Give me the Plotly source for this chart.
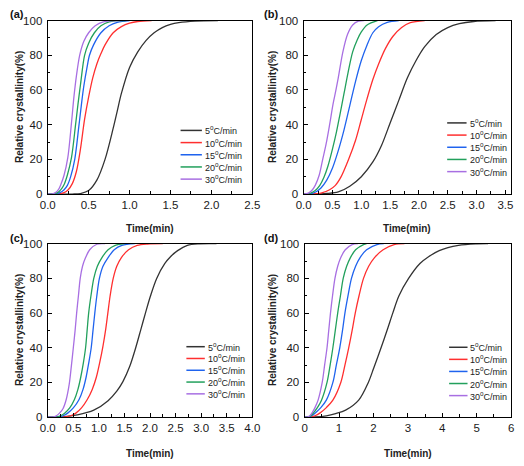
import plotly.graph_objects as go

# ---------------- data ----------------
series_labels = ["5<sup>o</sup>C/min", "10<sup>o</sup>C/min", "15<sup>o</sup>C/min",
                 "20<sup>o</sup>C/min", "30<sup>o</sup>C/min"]
series_colors = ["#333333", "#ff2f2f", "#1f63ee", "#22a05c", "#a86fe2"]

# panel (a)
a5_t = [0, 0.3, 0.4, 0.5, 0.6, 0.7, 0.8, 0.85, 0.9, 1.0, 1.1, 1.2, 1.3, 1.4, 1.5, 1.6, 1.8, 2.08]
a5_y = [0, 0, 0.3, 2, 8, 20, 38, 48, 58, 73, 82, 88.5, 93, 96, 97.8, 98.8, 99.7, 100]
a10_t = [0, 0.12, 0.2, 0.25, 0.3, 0.35, 0.4, 0.45, 0.5, 0.55, 0.6, 0.65, 0.7, 0.8, 0.9, 1.0, 1.1, 1.27]
a10_y = [0, 0, 0.8, 2.5, 6, 13, 26, 43, 56, 67, 75, 81, 86, 93, 96.5, 98.5, 99.5, 100]
a15_t = [0, 0.08, 0.15, 0.2, 0.24, 0.28, 0.33, 0.38, 0.41, 0.44, 0.48, 0.51, 0.56, 0.65, 0.75, 0.85, 1.0]
a15_y = [0, 0, 0.8, 2.5, 5, 10, 20, 39, 51, 62, 73, 80, 86, 93, 97, 99, 100]
a20_t = [0, 0.06, 0.12, 0.16, 0.2, 0.24, 0.29, 0.34, 0.37, 0.4, 0.45, 0.5, 0.57, 0.65, 0.75, 0.95]
a20_y = [0, 0, 0.8, 2.5, 5.5, 11, 21, 40, 52, 63, 80, 87, 93, 97, 99.3, 100]
a30_t = [0, 0.05, 0.1, 0.13, 0.16, 0.2, 0.245, 0.29, 0.32, 0.35, 0.39, 0.44, 0.5, 0.58, 0.68, 0.9]
a30_y = [0, 0, 1, 2.5, 5.5, 11, 21, 41, 56, 68, 80, 88, 93, 97, 99.3, 100]

# panel (b)
b5_t = [0, 0.2, 0.4, 0.6, 0.8, 1.0, 1.2, 1.35, 1.5, 1.65, 1.8, 1.95, 2.1, 2.3, 2.5, 2.7, 2.95, 3.33]
b5_y = [0, 0, 0.3, 1.2, 4.5, 10, 18.5, 28, 41, 54, 67, 77, 85, 92, 96, 98.2, 99.5, 100]
b10_t = [0, 0.15, 0.3, 0.45, 0.55, 0.65, 0.78, 0.9, 1.0, 1.1, 1.2, 1.3, 1.42, 1.55, 1.7, 1.85, 2.1]
b10_y = [0, 0, 0.5, 2.5, 5, 10, 20, 31, 43, 55, 66, 75, 84, 91, 96, 98.8, 100]
b15_t = [0, 0.1, 0.2, 0.3, 0.4, 0.5, 0.6, 0.7, 0.8, 0.9, 1.0, 1.1, 1.2, 1.3, 1.45, 1.65]
b15_y = [0, 0, 1, 3.5, 8, 15, 25, 37, 51, 65, 77, 86, 93, 96.5, 99, 100]
b20_t = [0, 0.1, 0.2, 0.28, 0.35, 0.42, 0.5, 0.57, 0.63, 0.7, 0.77, 0.85, 0.93, 1.0, 1.1, 1.28]
b20_y = [0, 0.3, 2, 5, 9.5, 16, 26, 36, 46, 58, 70, 82, 89, 93.5, 97.5, 100]
b30_t = [0, 0.08, 0.14, 0.2, 0.27, 0.33, 0.39, 0.45, 0.51, 0.56, 0.6, 0.68, 0.76, 0.85, 0.95, 1.05]
b30_y = [0, 0.5, 2, 5, 11, 20, 29, 40, 52, 60, 67, 82, 92, 97.5, 99.7, 100]

# panel (c)
c5_t = [0, 0.3, 0.58, 0.9, 1.18, 1.35, 1.47, 1.6, 1.72, 1.82, 1.91, 2.01, 2.13, 2.29, 2.4, 2.54, 2.73, 2.96, 3.3]
c5_y = [0, 0.2, 1.3, 4, 9.5, 15, 20.5, 29, 40, 50.5, 60, 70, 80, 88.6, 92.5, 96, 99, 99.9, 100]
c10_t = [0, 0.3, 0.45, 0.55, 0.66, 0.77, 0.87, 0.95, 1.02, 1.08, 1.13, 1.175, 1.22, 1.28, 1.35, 1.44, 1.58, 1.75, 1.95, 2.25]
c10_y = [0, 0, 0.8, 2.3, 5.3, 10, 16, 23, 32, 41, 50, 60, 70, 80, 87, 92, 96.5, 99, 99.8, 100]
c15_t = [0, 0.2, 0.3, 0.39, 0.5, 0.61, 0.69, 0.75, 0.8, 0.85, 0.885, 0.92, 0.96, 1.01, 1.08, 1.18, 1.3, 1.45, 1.7]
c15_y = [0, 0, 0.8, 2.3, 5.3, 10, 16, 23, 31, 40, 50, 60, 70, 80, 87, 92, 96.5, 99, 100]
c20_t = [0, 0.15, 0.25, 0.33, 0.43, 0.52, 0.59, 0.645, 0.695, 0.74, 0.77, 0.8, 0.85, 0.9, 0.97, 1.06, 1.18, 1.32, 1.5]
c20_y = [0, 0, 0.8, 2.3, 5.3, 10, 16, 23, 31, 40, 50, 60, 71, 80, 87, 92, 96.5, 99, 100]
c30_t = [0, 0.1, 0.17, 0.23, 0.3, 0.36, 0.42, 0.46, 0.5, 0.535, 0.565, 0.6, 0.635, 0.68, 0.74, 0.82, 0.96, 1.12]
c30_y = [0, 0, 0.8, 2.3, 5, 10, 19, 29, 40, 50, 60, 70, 80, 87, 92, 96.5, 99.7, 100]

# panel (d)
d5_t = [0, 0.3, 0.63, 0.9, 1.19, 1.57, 1.85, 2.01, 2.22, 2.41, 2.56, 2.74, 3.02, 3.35, 3.6, 3.91, 4.47, 5.0, 5.33]
d5_y = [0, 0.1, 0.75, 2, 4, 9.8, 20, 28.5, 40, 51, 60, 70, 80, 88.6, 92.5, 96, 99, 99.9, 100]
d10_t = [0, 0.15, 0.3, 0.44, 0.63, 0.82, 1.05, 1.17, 1.28, 1.38, 1.47, 1.58, 1.71, 1.86, 2.03, 2.28, 2.6, 2.9]
d10_y = [0, 0, 0.8, 2.3, 5.5, 9.8, 20, 30, 40, 50, 60, 70, 80, 87, 92, 96.5, 99.5, 100]
d15_t = [0, 0.1, 0.2, 0.3, 0.47, 0.63, 0.82, 0.92, 1.02, 1.1, 1.17, 1.26, 1.36, 1.48, 1.61, 1.8, 2.1, 2.3]
d15_y = [0, 0, 0.8, 2.3, 5.5, 9.8, 20, 30, 40, 50, 60, 70, 80, 87, 92, 96.5, 99.5, 100]
d20_t = [0, 0.1, 0.18, 0.25, 0.37, 0.49, 0.65, 0.74, 0.82, 0.89, 0.96, 1.04, 1.12, 1.22, 1.33, 1.48, 1.71, 1.8]
d20_y = [0, 0, 0.8, 2.3, 5.5, 9.8, 20, 30, 40, 50, 60, 70, 80, 87, 92, 96.5, 99.5, 100]
d30_t = [0, 0.08, 0.15, 0.21, 0.3, 0.39, 0.51, 0.58, 0.65, 0.7, 0.75, 0.81, 0.88, 0.96, 1.05, 1.18, 1.38, 1.55]
d30_y = [0, 0, 0.8, 2.3, 5.5, 9.8, 20, 30, 40, 50, 60, 70, 80, 87, 92, 96.5, 99.5, 100]

panel_labels = ["(a)", "(b)", "(c)", "(d)"]
x_ranges = [[0, 2.5], [0, 3.6], [0, 4], [0, 6]]
x_dticks = [0.5, 0.5, 0.5, 1]
x_formats = [".1f", ".1f", ".1f", "d"]
y_ticks = [0, 20, 40, 60, 80, 100]
x_title = "Time(min)"
y_title = "Relative crystallinity(%)"

panels = [
    [(a5_t, a5_y), (a10_t, a10_y), (a15_t, a15_y), (a20_t, a20_y), (a30_t, a30_y)],
    [(b5_t, b5_y), (b10_t, b10_y), (b15_t, b15_y), (b20_t, b20_y), (b30_t, b30_y)],
    [(c5_t, c5_y), (c10_t, c10_y), (c15_t, c15_y), (c20_t, c20_y), (c30_t, c30_y)],
    [(d5_t, d5_y), (d10_t, d10_y), (d15_t, d15_y), (d20_t, d20_y), (d30_t, d30_y)],
]

# ---------------- layout geometry (pixels) ----------------
W, H = 524, 466
px_x = [(41, 252), (305, 519), (41, 252), (306, 519)]
px_y = [(15, 193), (15, 193), (244, 422), (244, 422)]
leg_line_x = [(178, 200), (453, 473), (184, 203), (455, 474)]
leg_row0 = [127.7, 120, 349.7, 350.3]
leg_step = [12.5, 12.5, 12.1, 12.4]
ytitle_x = [12, 273, 12, 273]
xtitle_y = [228, 228, 459, 459]
label_pos = [(9, 8), (271, 8), (9, 238), (271, 238)]

FONT = "Liberation Sans, Arial, sans-serif"
fig = go.Figure()
layout = dict(width=W, height=H, margin=dict(l=0, r=0, t=0, b=0),
              paper_bgcolor="white", plot_bgcolor="white", showlegend=False,
              font=dict(family=FONT, size=11, color="#222"))
annotations = []
shapes = []

for i in range(4):
    sx = "" if i == 0 else str(i + 1)
    x0, x1 = px_x[i]
    y0, y1 = px_y[i]
    xd = [x0 / W, x1 / W]
    yd = [1 - y1 / H, 1 - y0 / H]
    for k, (t, y) in enumerate(panels[i]):
        fig.add_trace(go.Scatter(x=t, y=y, mode="lines", xaxis="x" + sx, yaxis="y" + sx,
                                 line=dict(color=series_colors[k], width=1.3, shape="spline", smoothing=0.9),
                                 name=series_labels[k]))
    common = dict(showline=True, linecolor="black", linewidth=1.3, mirror=True,
                  ticks="inside", ticklen=4, tickwidth=1.1, tickcolor="black",
                  showgrid=False, zeroline=False,
                  tickfont=dict(family=FONT, size=11.5, color="#1a1a1a"))
    layout["xaxis" + sx] = dict(common, domain=xd, anchor="y" + sx, range=x_ranges[i],
                                dtick=x_dticks[i], tick0=0, tickformat=x_formats[i],
                                minor=dict(ticks="inside", ticklen=2.5, dtick=x_dticks[i] / 2,
                                           tickcolor="black", tickwidth=1))
    layout["yaxis" + sx] = dict(common, domain=yd, anchor="x" + sx, range=[0, 100],
                                tickvals=y_ticks, ticklabelstandoff=2,
                                minor=dict(ticks="inside", ticklen=2.5, dtick=10,
                                           tickcolor="black", tickwidth=1))
    # axis titles
    annotations.append(dict(text="<b>" + x_title + "</b>", xref="paper", yref="paper",
                            x=(x0 + x1) / 2 / W, y=1 - xtitle_y[i] / H, showarrow=False,
                            xanchor="center", yanchor="middle",
                            font=dict(family=FONT, size=10, color="#222")))
    annotations.append(dict(text="<b>" + y_title + "</b>", xref="paper", yref="paper",
                            x=ytitle_x[i] / W, y=1 - (y0 + y1) / 2 / H, showarrow=False,
                            textangle=-90, xanchor="center", yanchor="middle",
                            font=dict(family=FONT, size=10, color="#222")))
    # panel label
    lx, ly = label_pos[i]
    annotations.append(dict(text="<b>" + panel_labels[i] + "</b>", xref="paper", yref="paper",
                            x=lx / W, y=1 - ly / H, showarrow=False,
                            xanchor="center", yanchor="middle",
                            font=dict(family=FONT, size=11, color="#111")))
    # legend
    lx0, lx1 = leg_line_x[i]
    for k in range(5):
        ry = leg_row0[i] + k * leg_step[i]
        shapes.append(dict(type="line", xref="paper", yref="paper",
                           x0=lx0 / W, x1=lx1 / W, y0=1 - ry / H, y1=1 - ry / H,
                           line=dict(color=series_colors[k], width=1.5)))
        annotations.append(dict(text=series_labels[k], xref="paper", yref="paper",
                                x=(lx1 + 1) / W, y=1 - ry / H, showarrow=False,
                                xanchor="left", yanchor="middle",
                                font=dict(family=FONT, size=9, color="#222")))

layout["annotations"] = annotations
layout["shapes"] = shapes
fig.update_layout(**layout)
fig.write_html("out.html", config={"displayModeBar": False},
               post_script="document.body.style.margin='0';document.body.style.overflow='hidden';")
